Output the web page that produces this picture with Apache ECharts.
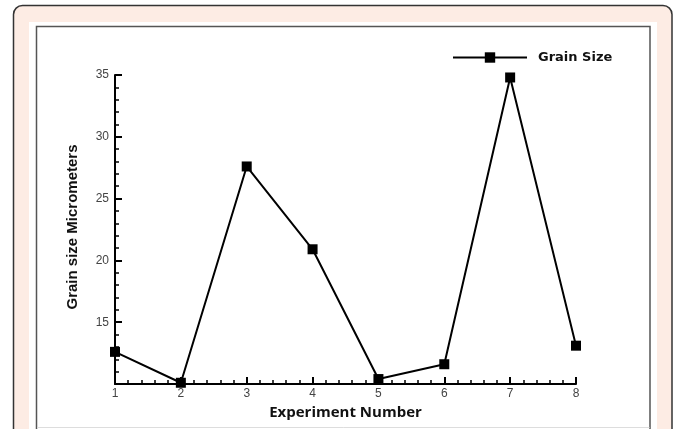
<!DOCTYPE html>
<html>
<head>
<meta charset="utf-8">
<script src="https://cdn.jsdelivr.net/npm/echarts@6/dist/echarts.min.js"></script>
<style>
html,body{margin:0;padding:0;background:#fff;}
#c{width:677px;height:429px;}
</style>
</head>
<body>
<div id="c"></div>
<script>
var experiments = [1, 2, 3, 4, 5, 6, 7, 8];
var grainSize = [12.6, 10.1, 27.6, 20.9, 10.4, 11.6, 34.8, 13.1];
var seriesName = 'Grain Size';
var xTitle = 'Experiment Number';
var yTitle = 'Grain size Micrometers';

var chart = echarts.init(document.getElementById('c'), null, {renderer: 'canvas'});
var pts = experiments.map(function (x, i) { return [x, grainSize[i]]; });

chart.setOption({
  animation: false,
  backgroundColor: '#fff',
  graphic: [
    {type: 'rect', z: -10, silent: true, shape: {x: 13.5, y: 5.5, width: 658.5, height: 440, r: 9},
     style: {fill: '#fdece4', stroke: '#333', lineWidth: 1.5}},
    {type: 'rect', z: -9, silent: true, shape: {x: 29, y: 22, width: 628, height: 420},
     style: {fill: '#fff'}},
    {type: 'rect', z: -8, silent: true, shape: {x: 36.5, y: 26.5, width: 613.5, height: 420},
     style: {fill: '#fff', stroke: '#555', lineWidth: 1.5}},
    {type: 'line', z: -7, silent: true, shape: {x1: 37, y1: 427.5, x2: 649.5, y2: 427.5},
     style: {stroke: '#ddd', lineWidth: 1}},
    {type: 'text', silent: true, x: 73, y: 227, rotation: Math.PI / 2,
     style: {text: yTitle, fill: '#111', font: 'bold 15px "Liberation Sans Narrow", "Liberation Sans", sans-serif',
             align: 'center', verticalAlign: 'middle'}}
  ],
  legend: {
    top: 46, left: 447,
    itemWidth: 74, itemHeight: 13,
    itemGap: 10,
    data: [seriesName],
    textStyle: {fontFamily: '"DejaVu Sans", sans-serif', fontWeight: 'bold', fontSize: 13, color: '#111', padding: [0, 0, 0, 6]}
  },
  grid: {left: 115, right: 101, top: 75, bottom: 45},
  xAxis: {
    type: 'value', min: 1, max: 8, interval: 1,
    name: xTitle, nameLocation: 'middle', nameGap: 19,
    nameTextStyle: {fontFamily: '"Open Sans", sans-serif', fontWeight: 'bold', fontSize: 15, color: '#111'},
    axisLine: {lineStyle: {color: '#000', width: 2}},
    axisTick: {inside: true, length: 7, lineStyle: {color: '#000', width: 2}},
    minorTick: {show: true, splitNumber: 5, length: 4, lineStyle: {color: '#000', width: 1.5}},
    axisLabel: {color: '#444', fontSize: 12, fontFamily: '"Liberation Sans", sans-serif', margin: 4},
    splitLine: {show: false}
  },
  yAxis: {
    type: 'value', min: 10, max: 35, interval: 5,
    axisLine: {show: true, lineStyle: {color: '#000', width: 2}},
    axisTick: {show: true, inside: true, length: 7, lineStyle: {color: '#000', width: 2}},
    minorTick: {show: true, splitNumber: 5, length: 4, lineStyle: {color: '#000', width: 1.5}},
    axisLabel: {color: '#444', fontSize: 12, fontFamily: '"Liberation Sans", sans-serif', margin: 6,
      formatter: function (v) { return v === 10 ? '' : String(v); }},
    splitLine: {show: false}
  },
  series: [{
    name: seriesName, type: 'line', data: pts,
    symbol: 'rect', symbolSize: 10,
    lineStyle: {color: '#000', width: 2},
    itemStyle: {color: '#000'},
    z: 5
  }]
});
</script>
</body>
</html>
